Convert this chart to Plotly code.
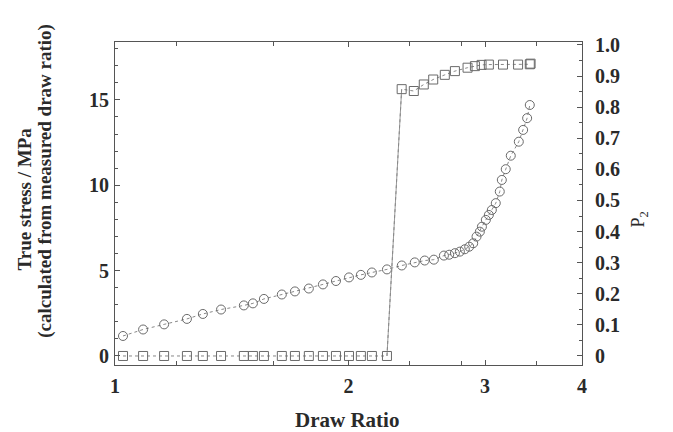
import plotly.graph_objects as go

# Draw ratio for stress (circles)
dr_stress = [1.024, 1.087, 1.157, 1.238, 1.298, 1.370, 1.466, 1.506, 1.556, 1.641,
             1.706, 1.778, 1.854, 1.927, 2.003, 2.075, 2.144, 2.242, 2.343, 2.435,
             2.508, 2.577, 2.655, 2.697, 2.743, 2.784, 2.825, 2.862, 2.896, 2.925,
             2.954, 2.972, 3.007, 3.034, 3.061, 3.097, 3.134, 3.153, 3.190, 3.238,
             3.316, 3.359, 3.399, 3.426]
stress = [1.17, 1.55, 1.85, 2.17, 2.46, 2.72, 2.96, 3.08, 3.34, 3.60,
          3.78, 3.95, 4.19, 4.39, 4.60, 4.75, 4.89, 5.07, 5.30, 5.48,
          5.59, 5.64, 5.88, 5.93, 6.02, 6.11, 6.25, 6.40, 6.60, 6.99,
          7.28, 7.57, 7.97, 8.26, 8.55, 8.95, 9.63, 10.31, 10.94, 11.73,
          12.55, 13.24, 13.93, 14.70]

# Draw ratio for P2 (squares)
dr_p2 = [1.024, 1.087, 1.157, 1.238, 1.298, 1.370, 1.466, 1.506, 1.556, 1.641,
         1.706, 1.778, 1.854, 1.927, 2.003, 2.075, 2.144, 2.242,
         2.342, 2.428, 2.501, 2.572, 2.662, 2.743, 2.848, 2.911, 2.969, 3.034,
         3.164, 3.309, 3.426, 3.434]
p2 = [0.0, 0.0, 0.0, 0.0, 0.0, 0.0, 0.0, 0.0, 0.0, 0.0,
      0.0, 0.0, 0.0, 0.0, 0.0, 0.0, 0.0, 0.0,
      0.858, 0.852, 0.873, 0.889, 0.904, 0.916, 0.927, 0.932, 0.936, 0.937,
      0.937, 0.937, 0.938, 0.940]
jump_index = 17  # last point before the neck jump

x_tickvals = [1, 2, 3, 4]
x_minor_ticks = [1.2, 1.6, 2.4, 2.8, 3.5]
y_left_ticks = [0, 5, 10, 15]
y_right_ticks = [0, 0.1, 0.2, 0.3, 0.4, 0.5, 0.6, 0.7, 0.8, 0.9, 1.0]
y_right_labels = ["0", "0.1", "0.2", "0.3", "0.4", "0.5", "0.6", "0.7", "0.8", "0.9", "1.0"]

FONT = "Liberation Serif"
TXT = "#2a2a2a"
AX = "#555555"
MK = "#6a6a6a"

fig = go.Figure()

fig.add_trace(go.Scatter(
    x=dr_stress, y=stress, mode="lines+markers",
    line=dict(color="#888888", width=1, dash="dot"),
    marker=dict(symbol="circle-open", size=9, color=MK, line=dict(width=1, color=MK)),
    yaxis="y", showlegend=False))

fig.add_trace(go.Scatter(
    x=dr_p2[jump_index:jump_index + 2], y=p2[jump_index:jump_index + 2], mode="lines",
    line=dict(color="#999999", width=1),
    yaxis="y2", showlegend=False))

fig.add_trace(go.Scatter(
    x=dr_p2, y=p2, mode="lines+markers",
    line=dict(color="#888888", width=1, dash="dot"),
    marker=dict(symbol="square-open", size=9, color=MK, line=dict(width=1, color=MK)),
    yaxis="y2", showlegend=False))

tickfont = dict(family=FONT, size=20, color=TXT, weight="bold")

fig.update_layout(
    width=673, height=432,
    margin=dict(l=115, r=91, t=42, b=67),
    paper_bgcolor="white", plot_bgcolor="white",
    font=dict(family=FONT, color=TXT),
    xaxis=dict(
        type="log", range=[0, 0.6021],
        tickvals=x_tickvals, ticktext=[str(v) for v in x_tickvals],
        ticks="inside", ticklen=5, tickcolor=AX, ticklabelstandoff=3,
        minor=dict(tickvals=x_minor_ticks, ticks="inside", ticklen=4, tickcolor=AX),
        showline=True, linecolor=AX, linewidth=1, mirror="ticks",
        showgrid=False, zeroline=False, tickfont=tickfont),
    yaxis=dict(
        range=[-0.53, 18.39],
        tickvals=y_left_ticks,
        ticks="inside", ticklen=5, tickcolor=AX, ticklabelstandoff=1,
        minor=dict(dtick=1, ticks="inside", ticklen=3, tickcolor=AX),
        showline=True, linecolor=AX, linewidth=1,
        showgrid=False, zeroline=False, tickfont=tickfont),
    yaxis2=dict(
        range=[-0.029, 1.0096], overlaying="y", side="right",
        tickvals=y_right_ticks, ticktext=y_right_labels,
        ticks="inside", ticklen=5, tickcolor=AX, ticklabelstandoff=8,
        minor=dict(dtick=0.05, ticks="inside", ticklen=3, tickcolor=AX),
        showline=True, linecolor=AX, linewidth=1,
        showgrid=False, zeroline=False, tickfont=tickfont),
    annotations=[
        dict(text="True stress / MPa",
             xref="paper", yref="paper", x=-0.193, y=0.515, textangle=-90,
             xanchor="center", yanchor="middle", showarrow=False,
             font=dict(family=FONT, size=19, color=TXT, weight="bold")),
        dict(text="(calculated from measured draw ratio)",
             xref="paper", yref="paper", x=-0.150, y=0.570, textangle=-90,
             xanchor="center", yanchor="middle", showarrow=False,
             font=dict(family=FONT, size=19, color=TXT, weight="bold")),
        dict(text="P<sub>2</sub>",
             xref="paper", yref="paper", x=1.124, y=0.45, textangle=-90,
             xanchor="center", yanchor="middle", showarrow=False,
             font=dict(family=FONT, size=18, color=TXT)),
        dict(text="Draw Ratio",
             xref="paper", yref="paper", x=0.497, y=-0.170,
             xanchor="center", yanchor="middle", showarrow=False,
             font=dict(family=FONT, size=21, color=TXT, weight="bold")),
    ],
)

fig.write_html("out.html")
